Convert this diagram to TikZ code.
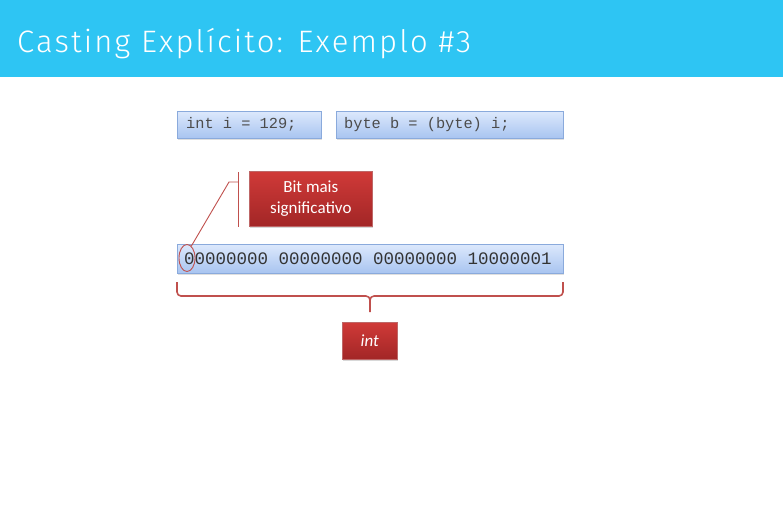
\documentclass[tikz,border=0pt]{standalone}
\usepackage{fontspec}
\setmainfont{Carlito}
\newfontfamily\titlefont[LetterSpace=7]{Fira Sans Light}
\newfontfamily\codefont{Liberation Mono}
\usetikzlibrary{shadows,shapes.geometric}
\definecolor{hdr}{HTML}{2EC5F3}
\definecolor{boxtop}{HTML}{DCE8FC}
\definecolor{boxbot}{HTML}{A8C4F0}
\definecolor{boxline}{HTML}{8AAADC}
\definecolor{redtop}{HTML}{D03A38}
\definecolor{redbot}{HTML}{A22626}
\definecolor{redline}{HTML}{C0504D}
\tikzset{
  codebox/.style={draw=boxline, line width=0.8pt, top color=boxtop, bottom color=boxbot,
    drop shadow={shadow xshift=1pt, shadow yshift=-1.5pt, opacity=0.25},
    anchor=north west, inner sep=0pt, text=black!75},
  redbox/.style={draw=redbot!70, line width=0.6pt, top color=redtop, bottom color=redbot,
    drop shadow={shadow xshift=1pt, shadow yshift=-1.5pt, opacity=0.3},
    anchor=north west, inner sep=0pt, text=white, align=center},
  callout/.style={draw=redline, line width=0.9pt},
}
\begin{document}
\begin{tikzpicture}[x=1pt,y=-1pt]
\useasboundingbox (0,0) rectangle (783,514);
\fill[white] (0,0) rectangle (783,514);
\fill[hdr] (0,0) rectangle (783,77);
\node[anchor=base west, text=white, inner sep=0pt, font=\titlefont\fontsize{31}{36}\selectfont] (title) at (17,52) {Casting Explícito: Exemplo \#3};

\node[codebox, minimum width=144pt, minimum height=27pt] (b1) at (177,111) {};
\node[anchor=west, inner sep=0pt, font=\codefont\fontsize{15.3}{18}\selectfont, text=black!70] (t1) at (186,124.5) {int i = 129;};
\node[codebox, minimum width=227pt, minimum height=27pt] (b2) at (336,111) {};
\node[anchor=west, inner sep=0pt, font=\codefont\fontsize{15.3}{18}\selectfont, text=black!70] (t2) at (344,124.5) {byte b = (byte) i;};

\node[redbox, minimum width=123pt, minimum height=55pt, font=\fontsize{17}{21}\selectfont] (msb) at (249,171) {Bit mais\\significativo};

\node[codebox, minimum width=386pt, minimum height=29pt] (bin) at (177,244) {};
\node[anchor=west, inner sep=0pt, font=\codefont\fontsize{17.5}{20}\selectfont, text=black!80] (bits) at (184,258.5) {00000000 00000000 00000000 10000001};

\node[draw=redline, line width=0.9pt, ellipse, minimum width=16pt, minimum height=27pt, inner sep=0pt] (ell) at (187,258) {};
\coordinate (ctop) at (238,172);
\coordinate (cbot) at (238,227);
\coordinate (cmid) at (238,182);
\coordinate (celb) at (229,182);
\draw[callout] (ctop) -- (cbot);
\draw[callout] (cmid) -- (celb) -- (ell.70);

\coordinate (bl) at (177,282);
\coordinate (br) at (563,282);
\coordinate (bm) at (370,312);
\draw[redline, line width=1.6pt, line join=round] (bl) -- (177,292) to[out=-90,in=180] (181,296) -- (366,296) to[out=0,in=90] (370,300) -- (bm);
\draw[redline, line width=1.6pt, line join=round] (br) -- (563,292) to[out=-90,in=0] (559,296) -- (374,296) to[out=180,in=90] (370,300);

\node[redbox, minimum width=55pt, minimum height=37pt, font=\itshape\fontsize{17}{21}\selectfont] (int) at (342,322) {int};
\end{tikzpicture}
\end{document}
